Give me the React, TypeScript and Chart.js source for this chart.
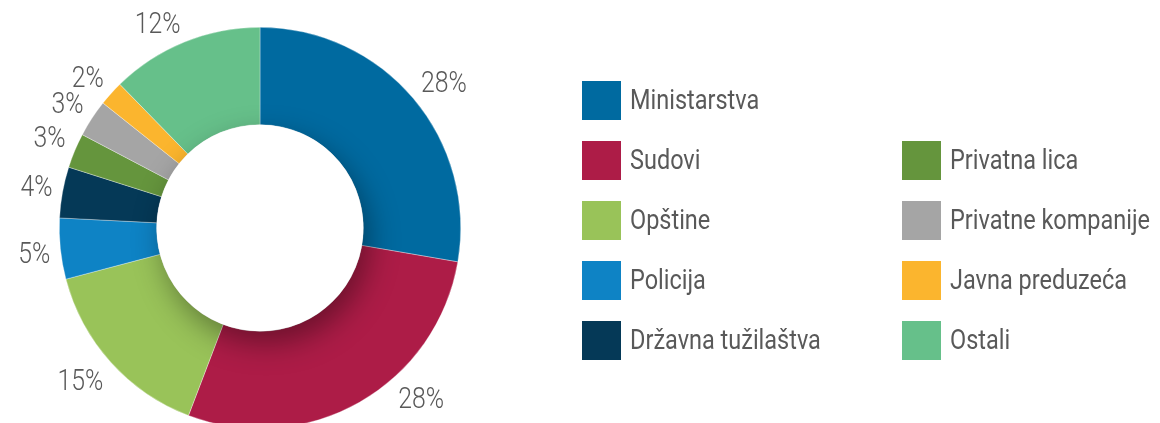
import React, { useEffect, useRef } from "react";
import { Chart, registerables } from "chart.js";

Chart.register(...registerables);

const categories = [
  "Ministarstva",
  "Sudovi",
  "Opštine",
  "Policija",
  "Državna tužilaštva",
  "Privatna lica",
  "Privatne kompanije",
  "Javna preduzeća",
  "Ostali",
];
const values = [27.7, 28.1, 15.1, 4.9, 4.1, 2.8, 3.0, 2.0, 12.3];
const colors = [
  "#006AA0",
  "#AD1C47",
  "#99C359",
  "#0E83C5",
  "#053957",
  "#65953D",
  "#A5A5A5",
  "#FBB52E",
  "#66C08A",
];

const FONT = "Roboto, 'Liberation Sans', sans-serif";
const TEXT_COLOR = "#595959";
const VISIBLE_H = 423;
const LABEL_SCALE = 0.84;
const LEGEND_SCALE = 0.87;

const holeShadowPlugin = {
  id: "holeShadow",
  afterDatasetsDraw(chart: any) {
    const meta = chart.getDatasetMeta(0);
    const arc = meta.data[0];
    if (!arc) return;
    const { x, y, innerRadius, outerRadius } = arc.getProps(
      ["x", "y", "innerRadius", "outerRadius"],
      true
    );
    const ctx = chart.ctx;
    ctx.save();
    ctx.beginPath();
    ctx.arc(x, y, outerRadius, 0, Math.PI * 2);
    ctx.clip();
    ctx.shadowColor = "rgba(0,0,0,0.38)";
    ctx.shadowBlur = 30;
    ctx.shadowOffsetX = 6;
    ctx.shadowOffsetY = 12;
    ctx.beginPath();
    ctx.arc(x, y, innerRadius, 0, Math.PI * 2);
    ctx.fillStyle = "#ffffff";
    ctx.fill();
    ctx.restore();
  },
};

const outsideLabelsPlugin = {
  id: "outsideLabels",
  afterDatasetsDraw(chart: any) {
    const ctx = chart.ctx;
    const meta = chart.getDatasetMeta(0);
    const data = chart.data.datasets[0].data as number[];
    const total = data.reduce((a, b) => a + b, 0);
    const fontSize = 29.5;
    ctx.save();
    ctx.font = `300 ${fontSize}px ${FONT}`;
    ctx.fillStyle = TEXT_COLOR;
    ctx.textAlign = "center";
    ctx.textBaseline = "alphabetic";
    const glyphH = fontSize * 0.711;
    meta.data.forEach((arc: any, i: number) => {
      const { x, y, startAngle, endAngle, outerRadius } = arc.getProps(
        ["x", "y", "startAngle", "endAngle", "outerRadius"],
        true
      );
      const mid = (startAngle + endAngle) / 2;
      const dx = Math.cos(mid);
      const dy = Math.sin(mid);
      const text = Math.round((data[i] / total) * 100) + "%";
      const w = ctx.measureText(text).width * LABEL_SCALE;
      const r = outerRadius + 10;
      const ax = x + dx * r;
      let ay = y + dy * r;
      const vy = Math.sign(dy) * Math.min(1, Math.abs(dy) * 2.5);
      let cy = ay + (glyphH / 2) * vy;
      let cxAnchor = ax;
      const maxBottom = VISIBLE_H - 15;
      if (cy + glyphH / 2 > maxBottom) {
        cy = maxBottom - glyphH / 2;
        ay = cy - (glyphH / 2) * vy;
        const rel = ay - y;
        cxAnchor = x + Math.sign(dx) * Math.sqrt(Math.max(r * r - rel * rel, 0));
      }
      const cx = cxAnchor + Math.sign(dx) * (w / 2);
      ctx.save();
      ctx.translate(cx, cy + glyphH / 2);
      ctx.scale(LABEL_SCALE, 1);
      ctx.fillText(text, 0, 0);
      ctx.restore();
    });
    ctx.restore();
  },
};

export default function App() {
  const canvasRef = useRef<HTMLCanvasElement | null>(null);

  useEffect(() => {
    document.body.style.margin = "0";
    const canvas = canvasRef.current;
    if (!canvas) return;
    const chart = new Chart(canvas, {
      type: "doughnut",
      data: {
        labels: categories,
        datasets: [
          {
            data: values,
            backgroundColor: colors,
            borderColor: "rgba(255,255,255,0.55)",
            borderWidth: 0.6,
          },
        ],
      },
      options: {
        animation: false,
        responsive: false,
        cutout: "51.5%",
        layout: { padding: { left: 59, right: 699, top: 27, bottom: 11 } },
        plugins: {
          legend: { display: false },
          tooltip: { enabled: false },
        },
      },
      plugins: [holeShadowPlugin, outsideLabelsPlugin],
    });
    return () => chart.destroy();
  }, []);

  const col1 = categories.slice(0, 5).map((c, i) => ({ c, i, row: i + 1, col: 1 }));
  const col2 = categories.slice(5).map((c, k) => ({ c, i: k + 5, row: k + 2, col: 2 }));
  const items = [...col1, ...col2];

  return (
    <div
      style={{
        position: "relative",
        width: 1160,
        height: VISIBLE_H,
        background: "#ffffff",
        overflow: "hidden",
      }}
    >
      <canvas
        ref={canvasRef}
        width={1160}
        height={440}
        style={{ display: "block", position: "absolute", left: 0, top: 0 }}
      />
      <div
        style={{
          position: "absolute",
          left: 582,
          top: 70,
          display: "grid",
          gridTemplateColumns: "320px 260px",
          gridTemplateRows: "repeat(5, 60px)",
        }}
      >
        {items.map((it) => (
          <div
            key={it.c}
            style={{
              gridColumn: it.col,
              gridRow: it.row,
              display: "flex",
              alignItems: "center",
              gap: 9,
            }}
          >
            <div
              style={{
                width: 39,
                height: 39,
                background: colors[it.i],
                flex: "0 0 auto",
              }}
            />
            <span
              style={{
                fontFamily: FONT,
                fontSize: 27,
                lineHeight: 1,
                color: TEXT_COLOR,
                whiteSpace: "nowrap",
                display: "inline-block",
                transform: `scaleX(${LEGEND_SCALE})`,
                transformOrigin: "left center",
              }}
            >
              {it.c}
            </span>
          </div>
        ))}
      </div>
    </div>
  );
}
